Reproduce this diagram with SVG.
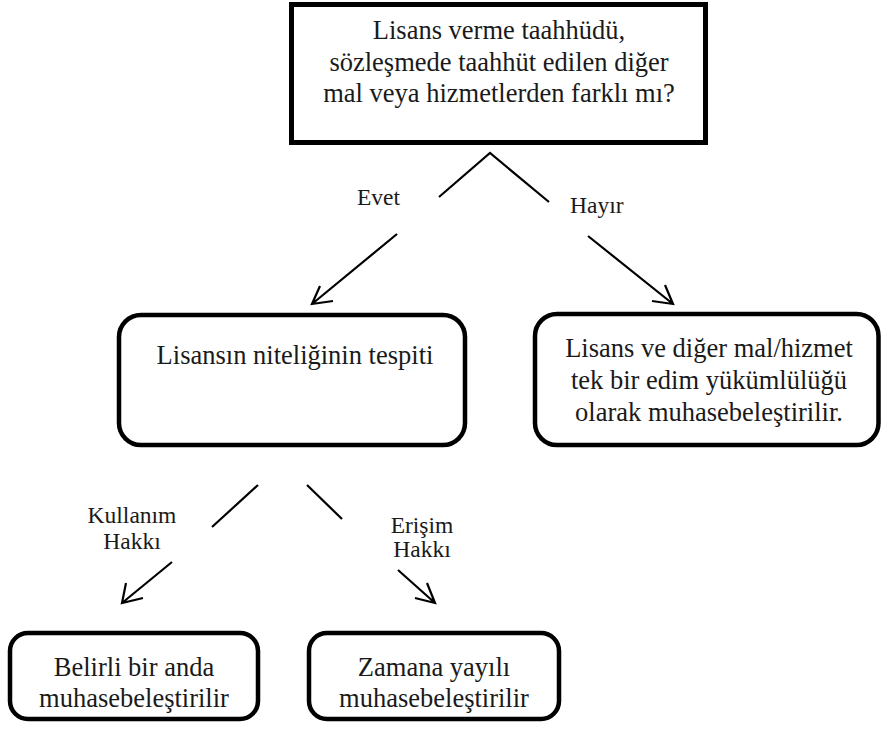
<svg xmlns="http://www.w3.org/2000/svg" width="881" height="731" viewBox="0 0 881 731">
<defs>
<style>
.box{fill:#fff;stroke:#000;stroke-width:4.5}
.t{font-family:"Liberation Serif","Times New Roman",Times,serif;font-size:26.5px;fill:#1a1a1a;text-anchor:middle}
.l{font-family:"Liberation Serif","Times New Roman",Times,serif;font-size:23.5px;fill:#1a1a1a}
.c{stroke:#000;stroke-width:2.2;fill:none;stroke-linecap:butt}
</style>
</defs>
<rect width="881" height="731" fill="#fff"/>
<g id="connectors">
<path class="c" d="M439,197 L490,153 L549,202"/>
<path class="c" d="M397,234 L312,304 M320,286 L312,304 L333,301"/>
<path class="c" d="M588,236 L673,304 M665,285 L673,304 L652,301"/>
<path class="c" d="M212,527 L258,485"/>
<path class="c" d="M307,485 L342,519"/>
<path class="c" d="M172,562 L122,603 M126,583 L122,603 L143,598"/>
<path class="c" d="M398,570 L435,603 M427,583 L435,603 L415,598"/>
<text class="l" x="357" y="205">Evet</text>
<text class="l" x="570" y="213">Hayır</text>
<text class="l" x="132" y="523" text-anchor="middle">Kullanım</text>
<text class="l" x="132" y="549" text-anchor="middle">Hakkı</text>
<text class="l" x="422" y="533" text-anchor="middle">Erişim</text>
<text class="l" x="422" y="557" text-anchor="middle">Hakkı</text>
</g>
<g id="n1">
<rect x="291.5" y="4.5" width="414" height="138" fill="#fff" stroke="#000" stroke-width="5"/>
<text class="t" x="499" y="39">Lisans verme taahhüdü,</text>
<text class="t" x="499" y="71">sözleşmede taahhüt edilen diğer</text>
<text class="t" x="499" y="102">mal veya hizmetlerden farklı mı?</text>
</g>
<g id="n2">
<rect class="box" x="119" y="315" width="346" height="130" rx="22"/>
<text class="t" x="295" y="364">Lisansın niteliğinin tespiti</text>
</g>
<g id="n3">
<rect class="box" x="535" y="314" width="343.5" height="131" rx="22"/>
<text class="t" x="709" y="357">Lisans ve diğer mal/hizmet</text>
<text class="t" x="709" y="389">tek bir edim yükümlülüğü</text>
<text class="t" x="709" y="421">olarak muhasebeleştirilir.</text>
</g>
<g id="n4">
<rect class="box" x="10" y="633" width="248" height="86" rx="18"/>
<text class="t" x="134" y="676">Belirli bir anda</text>
<text class="t" x="134" y="707">muhasebeleştirilir</text>
</g>
<g id="n5">
<rect class="box" x="309" y="633" width="250" height="86" rx="18"/>
<text class="t" x="434" y="676">Zamana yayılı</text>
<text class="t" x="434" y="707">muhasebeleştirilir</text>
</g>
</svg>
